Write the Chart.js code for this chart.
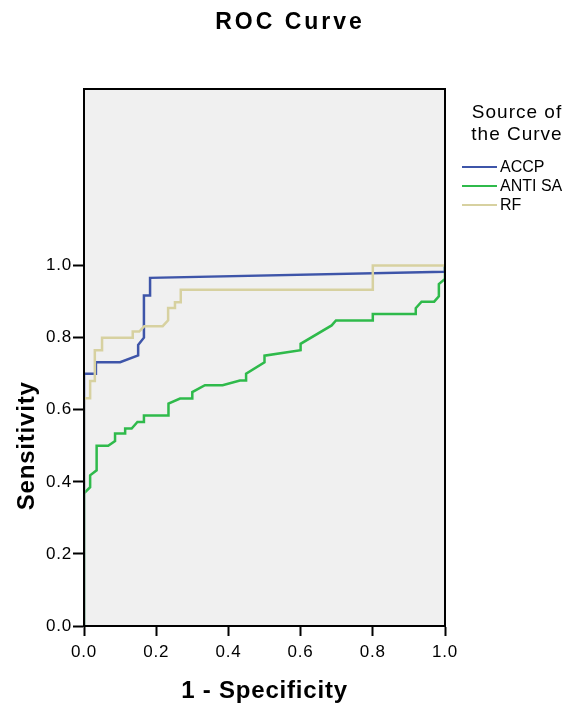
<!DOCTYPE html>
<html>
<head>
<meta charset="utf-8">
<script src="https://cdn.jsdelivr.net/npm/chart.js@4/dist/chart.umd.min.js"></script>
<style>
  html, body { margin: 0; padding: 0; background: #fff; }
  canvas { display: block; }
</style>
</head>
<body>
<canvas id="roc" width="585" height="707"></canvas>
<script>
// curve names, in legend order
const curveNames = ["ACCP", "ANTI SA", "RF"];

// 1 - specificity / sensitivity
const accpFpr = [0, 0, 0.033, 0.033, 0.10, 0.15, 0.15, 0.166, 0.166, 0.183, 0.183, 1, 1];
const accpTpr = [0, 0.70, 0.70, 0.732, 0.732, 0.751, 0.78, 0.80, 0.917, 0.917, 0.966, 0.983, 1];

const antiFpr = [0, 0, 0.017, 0.017, 0.035, 0.035, 0.067, 0.086, 0.086, 0.114, 0.114, 0.132, 0.148,
  0.166, 0.166, 0.234, 0.234, 0.266, 0.30, 0.30, 0.335, 0.384, 0.432, 0.449, 0.449, 0.50, 0.50,
  0.60, 0.60, 0.686, 0.698, 0.80, 0.80, 0.919, 0.919, 0.935, 0.97, 0.983, 0.983, 1, 1];
const antiTpr = [0, 0.368, 0.385, 0.418, 0.432, 0.50, 0.50, 0.513, 0.534, 0.534, 0.548, 0.548, 0.566,
  0.566, 0.584, 0.584, 0.617, 0.631, 0.631, 0.649, 0.668, 0.668, 0.681, 0.681, 0.70, 0.732, 0.75,
  0.765, 0.783, 0.834, 0.848, 0.848, 0.866, 0.866, 0.882, 0.90, 0.90, 0.915, 0.949, 0.963, 1];

const rfFpr = [0, 0, 0.017, 0.017, 0.03, 0.03, 0.05, 0.05, 0.135, 0.135, 0.153, 0.167, 0.218, 0.233,
  0.233, 0.252, 0.252, 0.268, 0.268, 0.80, 0.80, 1];
const rfTpr = [0, 0.632, 0.632, 0.68, 0.68, 0.765, 0.765, 0.80, 0.80, 0.817, 0.817, 0.832, 0.832, 0.848,
  0.882, 0.882, 0.898, 0.898, 0.933, 0.933, 1, 1];

const axisTicks = [0, 0.2, 0.4, 0.6, 0.8, 1.0];

const colors = ["#3e55a9", "#2fba4b", "#d7d1a0"];
const FONT = "'Liberation Sans', Arial, sans-serif";

function toPoints(xs, ys) {
  return xs.map((x, i) => ({ x: x, y: ys[i] }));
}

// background, frame, title, y title and legend
const spssLook = {
  id: "spssLook",
  beforeDraw(chart) {
    const { ctx, chartArea: a } = chart;
    ctx.save();
    ctx.fillStyle = "#f0f0f0";
    ctx.fillRect(a.left, a.top, a.right - a.left, a.bottom - a.top);
    ctx.restore();
    // tick labels and x title get SPSS-like spacing
    ctx.letterSpacing = "0.8px";
  },
  afterDraw(chart) {
    const { ctx, chartArea: a } = chart;
    ctx.letterSpacing = "0px";
    ctx.save();
    ctx.strokeStyle = "#000";
    ctx.lineWidth = 2;
    ctx.strokeRect(a.left, a.top, a.right - a.left, a.bottom - a.top);

    ctx.fillStyle = "#000";
    ctx.textAlign = "center";
    ctx.textBaseline = "alphabetic";
    ctx.font = "bold 23px " + FONT;
    ctx.letterSpacing = "3px";
    ctx.fillText("ROC Curve", 290, 29);

    // y title centred on the 0..1 range
    const ys = chart.scales.y;
    const yMid = (ys.getPixelForValue(0) + ys.getPixelForValue(1)) / 2;
    ctx.save();
    ctx.translate(27, yMid);
    ctx.rotate(-Math.PI / 2);
    ctx.font = "bold 24px " + FONT;
    ctx.letterSpacing = "0.8px";
    ctx.textBaseline = "middle";
    ctx.fillText("Sensitivity", 0, 0);
    ctx.restore();

    // legend
    ctx.font = "19px " + FONT;
    ctx.letterSpacing = "1px";
    ctx.textBaseline = "alphabetic";
    ctx.fillText("Source of", 517, 118);
    ctx.fillText("the Curve", 517, 140);

    ctx.letterSpacing = "0px";
    ctx.font = "16px " + FONT;
    ctx.textAlign = "left";
    ctx.textBaseline = "middle";
    chart.data.datasets.forEach((ds, i) => {
      const y = 167 + i * 19;
      ctx.strokeStyle = ds.borderColor;
      ctx.lineWidth = 2;
      ctx.beginPath();
      ctx.moveTo(462, y);
      ctx.lineTo(497, y);
      ctx.stroke();
      ctx.fillText(ds.label, 500, y + 1);
    });
    ctx.restore();
  },
};

const tickLabel = (v) => Number(v).toFixed(1);

new Chart(document.getElementById("roc"), {
  type: "scatter",
  data: {
    datasets: [
      { label: curveNames[0], data: toPoints(accpFpr, accpTpr), borderColor: colors[0], order: 2 },
      { label: curveNames[1], data: toPoints(antiFpr, antiTpr), borderColor: colors[1], order: 3 },
      { label: curveNames[2], data: toPoints(rfFpr, rfTpr), borderColor: colors[2], order: 1 },
    ].map((d) => ({ ...d, showLine: true, pointRadius: 0, borderWidth: 2.5, tension: 0, fill: false })),
  },
  options: {
    responsive: false,
    animation: false,
    layout: { padding: { left: 0, right: 140, top: 89, bottom: 0 } },
    plugins: { legend: { display: false }, tooltip: { enabled: false }, title: { display: false } },
    scales: {
      x: {
        type: "linear",
        min: 0,
        max: 1,
        afterBuildTicks: (s) => { s.ticks = axisTicks.map((v) => ({ value: v })); },
        afterFit: (s) => { s.height = 81; },
        ticks: { callback: tickLabel, color: "#000", font: { family: FONT, size: 17 }, padding: 6, maxRotation: 0 },
        grid: { drawOnChartArea: false, tickLength: 10, tickColor: "#000", tickWidth: 2 },
        border: { color: "#000", width: 2 },
        title: { display: true, text: "1 - Specificity", color: "#000", font: { family: FONT, size: 24, weight: "bold" }, padding: { top: 0, bottom: 1 } },
      },
      y: {
        type: "linear",
        min: 0,
        max: 1.49,
        afterBuildTicks: (s) => { s.ticks = axisTicks.map((v) => ({ value: v })); },
        afterFit: (s) => { s.width = 84; },
        ticks: { callback: tickLabel, color: "#000", font: { family: FONT, size: 17 }, padding: 1 },
        grid: { drawOnChartArea: false, tickLength: 11, tickColor: "#000", tickWidth: 2 },
        border: { color: "#000", width: 2 },
      },
    },
  },
  plugins: [spssLook],
});
</script>
</body>
</html>
